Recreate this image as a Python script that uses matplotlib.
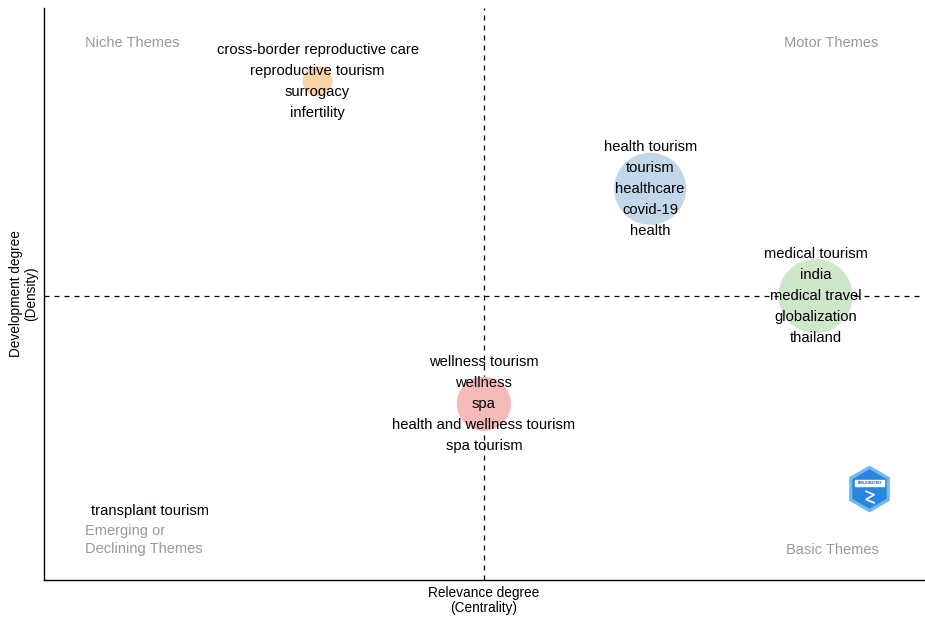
import matplotlib
matplotlib.use('Agg')
import matplotlib.pyplot as plt
from matplotlib.patches import RegularPolygon, Rectangle

plt.rcParams['font.family'] = ['Liberation Sans', 'DejaVu Sans']

# cluster positions on the strategic diagram (normalised centrality / density)
centrality = [0.311, 0.689, 0.877, 0.500, 0.120]
density = [0.872, 0.684, 0.4965, 0.308, 0.121]
freq = [45, 259, 274, 146, 2]
cluster_words = [
    ['cross-border reproductive care', 'reproductive tourism', 'surrogacy', 'infertility'],
    ['health tourism', 'tourism', 'healthcare', 'covid-19', 'health'],
    ['medical tourism', 'india', 'medical travel', 'globalization', 'thailand'],
    ['wellness tourism', 'wellness', 'spa', 'health and wellness tourism', 'spa tourism'],
    ['transplant tourism'],
]
cluster_colors = ['#fbd3a6', '#c3d7ea', '#cfe7c9', '#f4b9b9', '#e8c8d8']
median_x = 0.5
median_y = 0.4965

fig = plt.figure(figsize=(9.25, 6.17), dpi=100)
ax = fig.add_axes([0.0476, 0.06, 0.951, 0.927])
ax.set_xlim(0, 1)
ax.set_ylim(0, 1)

ax.axvline(median_x, color='black', lw=0.9, ls=(0, (4, 4)), zorder=1)
ax.axhline(median_y, color='black', lw=0.9, ls=(0, (4, 4)), zorder=1)

ax.scatter(centrality, density, s=[f * 10.4 for f in freq], c=cluster_colors,
           edgecolors='none', zorder=2)

line_gap = 15.1
for x, y, words in zip(centrality, density, cluster_words):
    n = len(words)
    for i, w in enumerate(words):
        off = ((n - 1) / 2 - i) * line_gap
        ax.annotate(w, (x, y), xytext=(0, off), textcoords='offset points',
                    ha='center', va='center', fontsize=10.6, color='black', zorder=3)

grey = '#999999'
ax.text(0.0466, 0.939, 'Niche Themes', transform=ax.transAxes, ha='left', va='center',
        fontsize=10.5, color=grey)
ax.text(0.949, 0.939, 'Motor Themes', transform=ax.transAxes, ha='right', va='center',
        fontsize=10.5, color=grey)
ax.text(0.0466, 0.07, 'Emerging or\nDeclining Themes', transform=ax.transAxes, ha='left',
        va='center', fontsize=10.5, color=grey, linespacing=1.4)
ax.text(0.949, 0.052, 'Basic Themes', transform=ax.transAxes, ha='right', va='center',
        fontsize=10.5, color=grey)

# small bibliometrix badge
badge_ax = fig.add_axes([0.915, 0.17, 0.05, 0.075])
badge_ax.set_xlim(-1, 1)
badge_ax.set_ylim(-1, 1)
badge_ax.set_aspect('equal')
badge_ax.axis('off')
badge_ax.add_patch(RegularPolygon((0, 0), 6, radius=0.98, color='#6fbaf2'))
badge_ax.add_patch(RegularPolygon((0, 0), 6, radius=0.82, color='#2a86dc'))
badge_ax.add_patch(Rectangle((-0.62, 0.12), 1.24, 0.26, color='white'))
badge_ax.text(0, 0.25, 'BIBLIOMETRIX', ha='center', va='center', fontsize=2.4,
              color='#1b5fa8', fontweight='bold')
badge_ax.plot([-0.15, 0.2, -0.15, 0.2], [-0.1, -0.25, -0.45, -0.6], color='white', lw=1.2)

ax.set_xticks([])
ax.set_yticks([])
for side in ['top', 'right']:
    ax.spines[side].set_visible(False)
for side in ['left', 'bottom']:
    ax.spines[side].set_linewidth(1.0)

ax.set_xlabel('Relevance degree\n(Centrality)', fontsize=9.8, labelpad=4, linespacing=1.1)
ax.set_ylabel('Development degree\n(Density)', fontsize=9.8, labelpad=4, linespacing=1.1)

fig.savefig('out.png', dpi=100)
